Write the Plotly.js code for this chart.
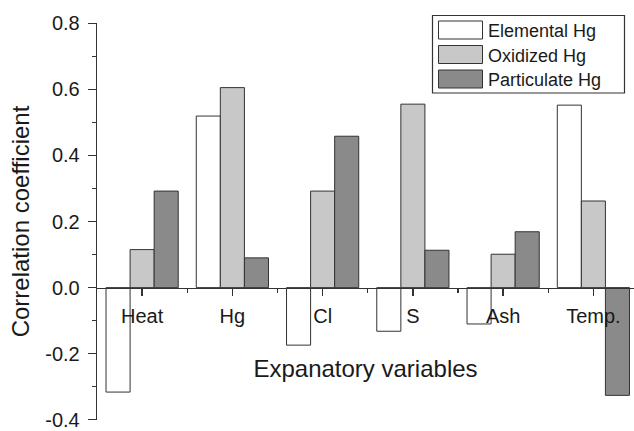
<!DOCTYPE html>
<html>
<head>
<meta charset="utf-8">
<script src="https://cdn.plot.ly/plotly-3.0.1.min.js"></script>
<style>html,body{margin:0;padding:0;background:#fff;}#chart{width:634px;height:431px;}</style>
</head>
<body>
<div id="chart"></div>
<script>
const categories = ["Heat", "Hg", "Cl", "S", "Ash", "Temp."];
const elementalHg = [-0.316, 0.519, -0.174, -0.132, -0.110, 0.552];
const oxidizedHg = [0.115, 0.605, 0.292, 0.555, 0.101, 0.262];
const particulateHg = [0.292, 0.090, 0.458, 0.113, 0.169, -0.326];
const seriesNames = ["Elemental Hg", "Oxidized Hg", "Particulate Hg"];
const yTickVals = [-0.4, -0.2, 0.0, 0.2, 0.4, 0.6, 0.8];
const yTickText = ["-0.4", "-0.2", "0.0", "0.2", "0.4", "0.6", "0.8"];
const boundaryTicks = [0.5, 1.5, 2.5, 3.5, 4.5];

const FONT = "Liberation Sans, Arial, Helvetica, sans-serif";
const INK = "#1a1a1a";
const EDGE = "#333333";

function barTrace(name, values, color) {
  return {
    type: "bar", name: name, x: categories, y: values,
    marker: {color: color, line: {color: EDGE, width: 1}},
    hoverinfo: "x+y+name"
  };
}

const data = [
  barTrace(seriesNames[0], elementalHg, "#ffffff"),
  barTrace(seriesNames[1], oxidizedHg, "#c8c8c8"),
  barTrace(seriesNames[2], particulateHg, "#8a8a8a"),
  {type: "scatter", x: [], y: [], xaxis: "x2", yaxis: "y", showlegend: false, hoverinfo: "skip"}
];

const yMin = -0.4005, yMax = 0.8005;
const zeroPos = (0 - yMin) / (yMax - yMin);

const W = 634, H = 431, ML = 97, MR = 0, MT = 23, MB = 11;
const plotW = W - ML - MR, plotH = H - MT - MB;
function px2paperX(px) { return (px - ML) / plotW; }
function px2paperY(py) { return (H - MB - py) / plotH; }

const layout = {
  width: W, height: H,
  margin: {l: ML, r: MR, t: MT, b: MB},
  paper_bgcolor: "#ffffff", plot_bgcolor: "#ffffff",
  font: {family: FONT, color: INK},
  barmode: "group", bargap: 0.2, bargroupgap: 0,
  showlegend: true,
  legend: {
    x: px2paperX(433), y: px2paperY(15), xanchor: "left", yanchor: "top",
    bgcolor: "rgba(0,0,0,0)", borderwidth: 0,
    font: {family: FONT, size: 18, color: INK},
    itemwidth: 45, tracegroupgap: 0, traceorder: "normal"
  },
  shapes: [{
    type: "rect", xref: "paper", yref: "paper", layer: "above",
    x0: px2paperX(432.5), x1: px2paperX(624.5), y0: px2paperY(93), y1: px2paperY(15.5),
    line: {color: EDGE, width: 1.2}, fillcolor: "#ffffff"
  }],
  xaxis: {
    type: "category", range: [-0.5, 5.45],
    anchor: "free", position: zeroPos,
    showline: true, linecolor: EDGE, linewidth: 1.3,
    ticks: "outside", ticklen: 7, tickcolor: EDGE, tickwidth: 1.3,
    tickfont: {family: FONT, size: 20, color: INK},
    ticklabelstandoff: 3,
    showgrid: false, zeroline: false,
    title: {text: "Expanatory variables", font: {family: FONT, size: 24, color: INK}, standoff: 34}
  },
  xaxis2: {
    type: "linear", overlaying: "x", range: [-0.5, 5.45],
    anchor: "free", position: zeroPos,
    tickmode: "array", tickvals: boundaryTicks,
    ticks: "outside", ticklen: 4, tickcolor: EDGE, tickwidth: 1.3,
    showticklabels: false, showline: false, showgrid: false, zeroline: false
  },
  yaxis: {
    range: [yMin, yMax],
    tickmode: "array", tickvals: yTickVals, ticktext: yTickText,
    ticks: "outside", ticklen: 8, tickcolor: EDGE, tickwidth: 1.3,
    minor: {tickmode: "linear", tick0: 0, dtick: 0.1, ticks: "outside", ticklen: 4, tickcolor: EDGE, tickwidth: 1.3, showgrid: false},
    tickfont: {family: FONT, size: 20, color: INK},
    ticklabelstandoff: 4, ticklabeloverflow: "allow",
    showline: true, linecolor: EDGE, linewidth: 1.3,
    showgrid: false, zeroline: false,
    title: {text: "Correlation coefficient", font: {family: FONT, size: 24, color: INK}, standoff: 8}
  }
};

function styleLegend(gd) {
  const legend = gd.querySelector("g.legend");
  if (!legend) return;
  const base = gd.getBoundingClientRect().top;
  legend.querySelectorAll("g.traces").forEach(function (t, i) {
    const p = t.querySelector(".legendpoints path");
    if (!p) return;
    p.setAttribute("d", "M22,9H-22V-9H22Z");
    const r = p.getBoundingClientRect();
    const cur = r.top + r.height / 2 - base;
    const want = 30 + 24.5 * i;
    const tr = t.getAttribute("transform") || "translate(0,0)";
    const m = tr.match(/translate\(\s*([-\d.e]+)[ ,]+([-\d.e]+)\s*\)/);
    const tx = m ? parseFloat(m[1]) : 0, ty = m ? parseFloat(m[2]) : 0;
    t.setAttribute("transform", "translate(" + tx + "," + (ty + want - cur) + ")");
  });
}

Plotly.newPlot("chart", data, layout, {staticPlot: true}).then(function (gd) {
  styleLegend(gd);
});
</script>
</body>
</html>
